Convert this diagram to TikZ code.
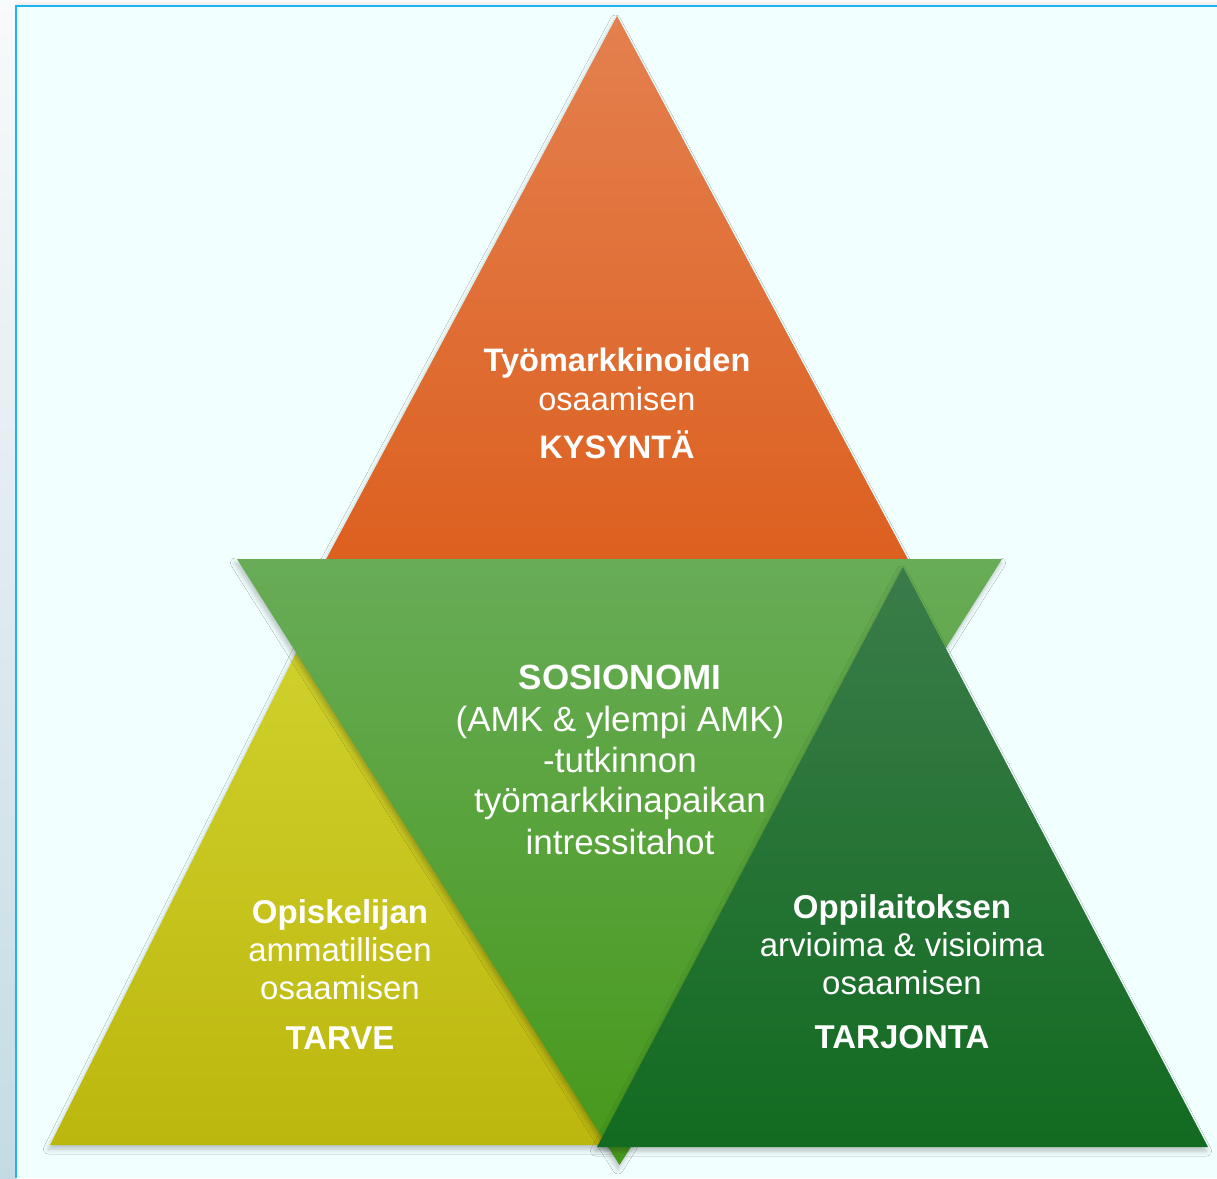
\documentclass[tikz,border=0pt]{standalone}
\usepackage{fontspec}
\setmainfont{Liberation Sans}
\usetikzlibrary{shadows,shadows.blur}
\definecolor{bgfill}{HTML}{F2FFFF}
\definecolor{frameblue}{HTML}{1EB4F0}
\definecolor{orangeT}{HTML}{E4804F}
\definecolor{orangeB}{HTML}{DC5F1E}
\definecolor{greenT}{HTML}{68AC57}
\definecolor{greenB}{HTML}{46981A}
\definecolor{yellowT}{HTML}{D2D430}
\definecolor{yellowB}{HTML}{BCB70E}
\definecolor{dgreenT}{HTML}{3A7C4A}
\definecolor{dgreenB}{HTML}{126B20}
\definecolor{stripT}{HTML}{F8FAFB}
\definecolor{stripB}{HTML}{C5DBE4}
\tikzset{
  tri/.style={blur shadow={shadow xshift=-1.5pt, shadow yshift=-4pt, shadow blur radius=5pt, shadow opacity=25}},
  lblb/.style={text=white, anchor=base, inner sep=0pt, font=\bfseries\fontsize{#1}{#1}\selectfont},
  lblr/.style={text=white, anchor=base, inner sep=0pt, font=\fontsize{#1}{#1}\selectfont}
}
\begin{document}
\begin{tikzpicture}[x=1pt,y=-1pt]
\useasboundingbox (0,0) rectangle (1217,1178);
% outer strips
\shade[top color=white!97!gray, bottom color=white!82!gray] (0,0) rectangle (1217,5.5);
\shade[top color=stripT, bottom color=stripB] (0,0) rectangle (15.5,1178);
\fill[bgfill] (15.5,5.5) rectangle (1217,1178);
\draw[frameblue, line width=2pt] (15.5,1178) -- (15.5,5.5) -- (1217,5.5);

% triangles
\coordinate (oA) at (617,16);
\coordinate (oL) at (315,580);
\coordinate (oR) at (919,580);
\shade[tri, top color=orangeT, bottom color=orangeB] (oA) -- (oR) -- (oL) -- cycle;

\coordinate (yA) at (335,575);
\coordinate (yL) at (50,1145);
\coordinate (yR) at (620,1145);
\shade[tri, top color=yellowT, bottom color=yellowB] (yA) -- (yR) -- (yL) -- cycle;

\coordinate (gL) at (237,559);
\coordinate (gR) at (1002,559);
\coordinate (gB) at (619.5,1165);
\shade[tri, top color=greenT, bottom color=greenB] (gL) -- (gR) -- (gB) -- cycle;

\coordinate (dA) at (903,567);
\coordinate (dL) at (597,1147);
\coordinate (dR) at (1208,1147);
\shade[tri, top color=dgreenT, bottom color=dgreenB] (dA) -- (dR) -- (dL) -- cycle;

% texts
\node[lblb=32.5] (t1) at (617,371) {Työmarkkinoiden};
\node[lblr=32.5] (t2) at (617,410) {osaamisen};
\node[lblb=32.5] (t3) at (617,458) {KYSYNTÄ};

\node[lblb=35] (m1) at (620,689) {SOSIONOMI};
\node[lblr=35] (m2) at (620,731) {(AMK \& ylempi AMK)};
\node[lblr=35] (m3) at (620,772) {-tutkinnon};
\node[lblr=35] (m4) at (620,812) {työmarkkinapaikan};
\node[lblr=35] (m5) at (620,854) {intressitahot};

\node[lblb=33] (l1) at (340,923.5) {Opiskelijan};
\node[lblr=33] (l2) at (340,961.5) {ammatillisen};
\node[lblr=33] (l3) at (340,999.5) {osaamisen};
\node[lblb=33] (l4) at (340,1049) {TARVE};

\node[lblb=33] (r1) at (902,918) {Oppilaitoksen};
\node[lblr=33] (r2) at (902,956.5) {arvioima \& visioima};
\node[lblr=33] (r3) at (902,994.5) {osaamisen};
\node[lblb=33] (r4) at (902,1048.5) {TARJONTA};
\end{tikzpicture}
\end{document}
